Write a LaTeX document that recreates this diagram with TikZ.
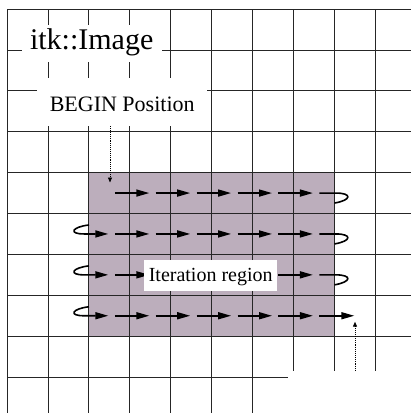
\documentclass[tikz,border=0pt]{standalone}
\usepackage{fontspec}
\setmainfont{Liberation Serif}
\usetikzlibrary{arrows.meta}
\definecolor{regionshade}{RGB}{188,174,188}
\begin{document}
\begin{tikzpicture}[x=1pt,y=-1pt,
  gridline/.style={draw=black!85, line width=0.8pt},
  flow/.style={line width=1.6pt, -{Triangle[length=13pt,width=7pt]}},
  hookline/.style={line width=1.6pt},
  pointer/.style={densely dotted, line width=0.9pt, -{Triangle[length=5pt,width=4pt]}},
  whitelabel/.style={fill=white, inner sep=0pt, text depth=0pt}]
\useasboundingbox (0,0) rectangle (411,413);
% shaded iteration region
\fill[regionshade] (88.8,172.6) rectangle (334.2,336.2);
% grid
\foreach \i in {0,...,9} \draw[gridline] ({7+40.9*\i},9) -- ({7+40.9*\i},413);
\foreach \j in {0,...,9} \draw[gridline] (7,{9+40.9*\j}) -- (411,{9+40.9*\j});
% arrows of each row
\foreach \y [count=\r] in {193.05,233.95,274.85,315.75} {
  \foreach \k in {0,...,4}
    \draw[flow] ({114.8+40.9*\k},\y) -- ({149.3+40.9*\k},\y);
  \ifnum\r>1
    \draw[flow] (89,{\y-9}) .. controls (72,{\y-7}) and (68,\y) .. (84,\y) -- (108.3,\y);
  \fi
  \ifnum\r<4
    \draw[hookline] (319.3,\y) -- (336,\y) .. controls (352,\y) and (352,{\y+7}) .. (334.5,{\y+10});
  \fi
}
\draw[flow] (319.3,315.75) -- (354.3,315.75);
% labels
\node[whitelabel, font=\fontsize{30pt}{36pt}\selectfont, minimum width=140pt, minimum height=37pt, text height=12.4pt] (title) at (91.7,43.5) {itk::Image};
\node[whitelabel, font=\fontsize{22pt}{26pt}\selectfont, minimum width=169.7pt, minimum height=47.7pt, text height=19pt] (begin) at (122.2,102.2) {BEGIN Position};
\node[whitelabel, font=\fontsize{20pt}{24pt}\selectfont, minimum width=133.3pt, minimum height=31pt, text height=11pt] (region) at (210.7,275.5) {Iteration region};
\node[fill=white, inner sep=0pt, minimum width=123.3pt, minimum height=42pt, anchor=north west] (endbox) at (287.7,371) {};
% pointers
\coordinate (beginTip) at (110,182.5);
\coordinate (endTip) at (355,321.7);
\draw[pointer] (begin.south -| beginTip) -- (beginTip);
\draw[pointer] (endbox.north -| endTip) -- (endTip);
\end{tikzpicture}
\end{document}
